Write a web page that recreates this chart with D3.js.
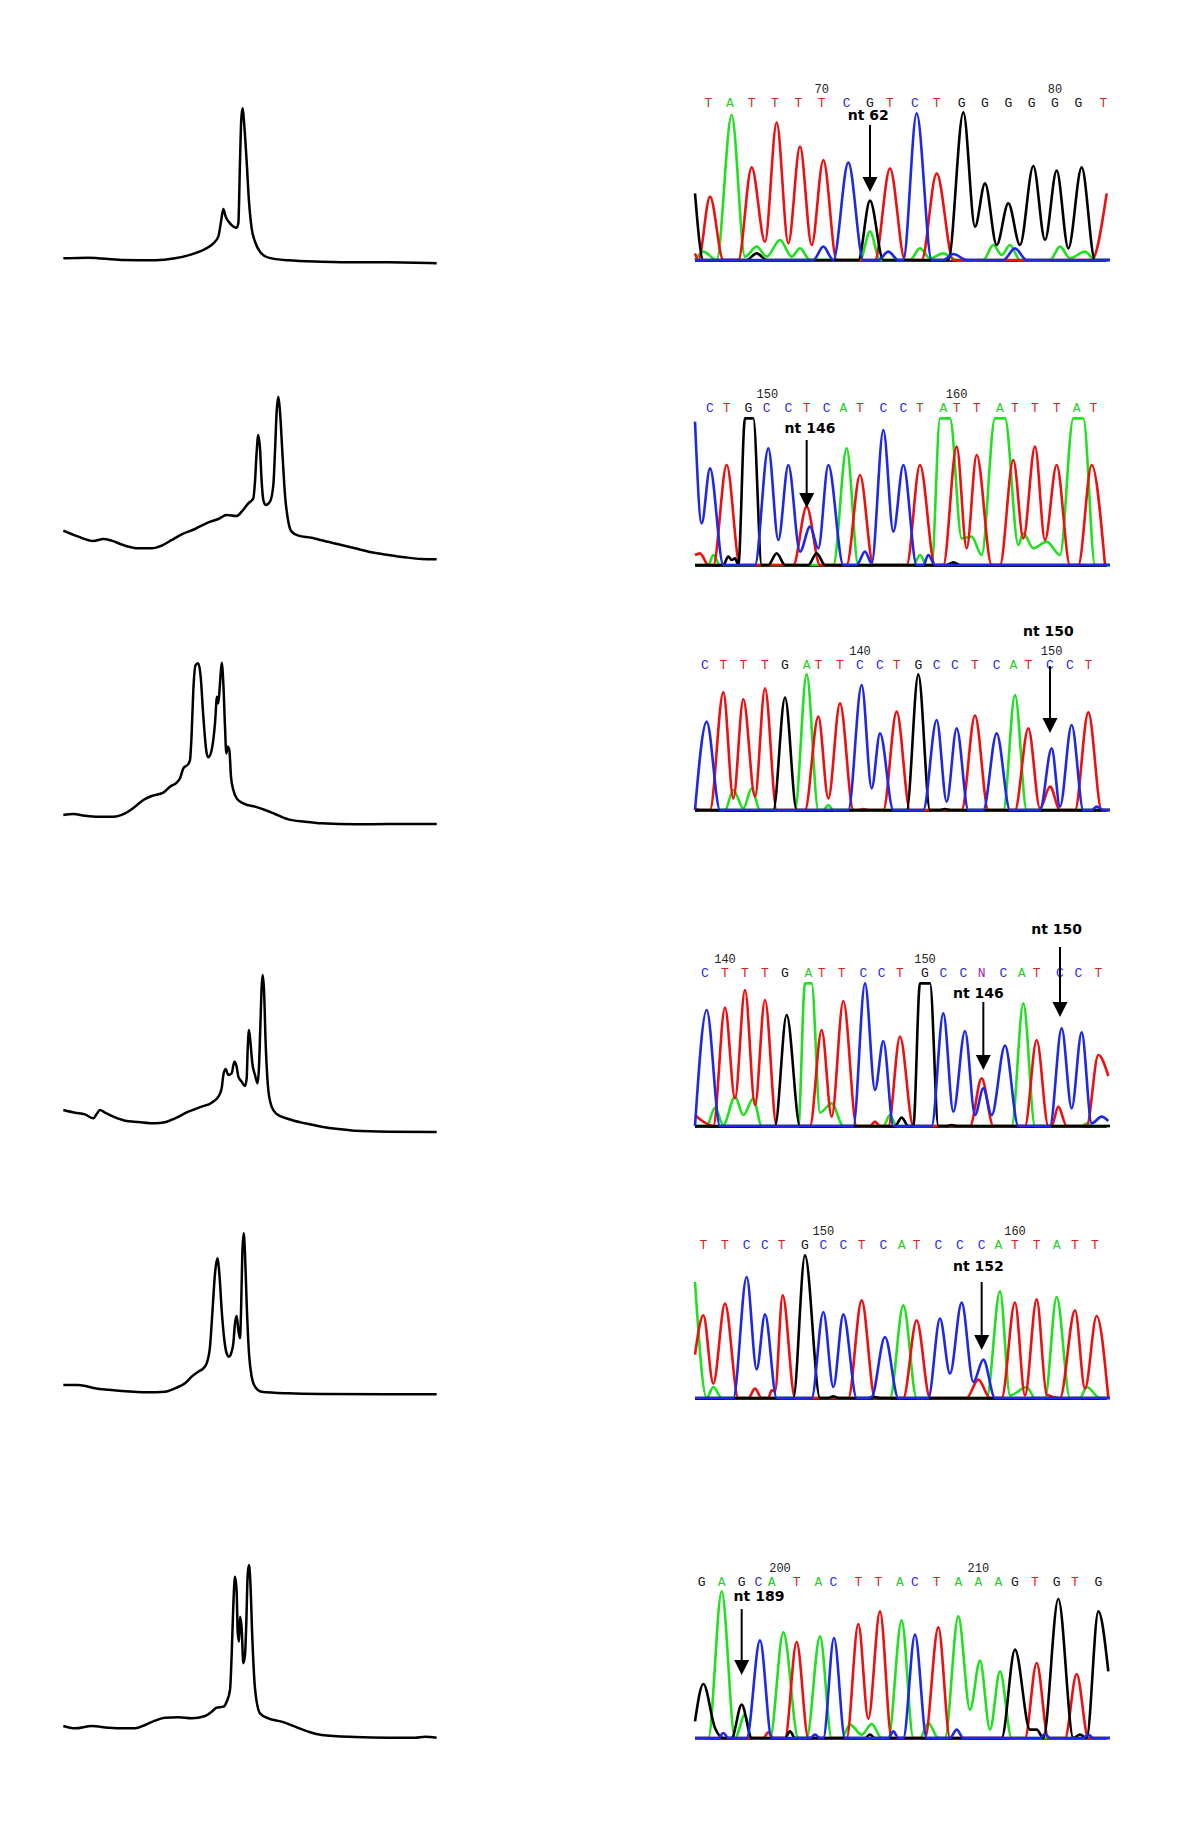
<!DOCTYPE html>
<html>
<head>
<meta charset="utf-8">
<script src="https://cdnjs.cloudflare.com/ajax/libs/d3/7.8.5/d3.min.js"></script>
<style>
  body { margin: 0; background: #fff; }
  .base { font-family: "Liberation Mono", monospace; font-size: 13px; }
  .num { font-family: "Liberation Mono", monospace; font-size: 12px; fill: #222; }
  .nt { font-family: "DejaVu Sans", sans-serif; font-size: 14px; font-weight: bold; fill: #000; }
</style>
</head>
<body>
<script>
// melting curves, left column: [scan, signal]
var melt1 = [[25,50],[100,52],[200,45],[300,44],[360,50],[410,62],[450,78],[475,95],[490,115],[498,160],[505,198],[512,175],[525,155],[545,142],[550,155],[555,340],[559,470],[563,500],[567,460],[575,340],[582,220],[590,140],[600,100],[615,70],[640,52],[700,44],[800,40],[900,38],[1000,38],[1145,35]];
var melt2 = [[25,103],[70,85],[115,72],[145,78],[170,73],[210,58],[250,50],[290,50],[320,58],[350,75],[380,92],[420,108],[460,128],[490,138],[515,150],[545,147],[560,160],[580,185],[595,200],[600,250],[605,340],[610,390],[615,350],[620,250],[625,195],[632,180],[645,190],[655,240],[660,340],[665,460],[670,505],[675,460],[682,340],[690,210],[700,130],[710,100],[730,88],[770,82],[800,74],[850,62],[900,50],[950,38],[1000,30],[1050,23],[1100,18],[1145,17]];
var melt3 = [[25,45],[55,48],[90,43],[130,40],[175,40],[210,50],[240,70],[265,90],[290,102],[325,112],[345,130],[365,142],[375,155],[385,185],[400,198],[405,210],[410,290],[415,420],[422,495],[430,500],[437,460],[445,340],[455,230],[460,218],[470,240],[480,320],[486,400],[490,380],[495,440],[500,502],[505,440],[510,310],[514,230],[518,250],[523,240],[528,160],[535,120],[545,95],[565,80],[600,70],[630,60],[660,48],[700,32],[750,25],[800,20],[900,17],[1000,18],[1145,18]];
var melt4 = [[25,90],[60,82],[90,77],[115,65],[125,78],[135,90],[150,82],[175,70],[210,58],[250,54],[300,50],[330,53],[360,65],[400,85],[440,100],[470,112],[490,130],[500,155],[505,195],[512,213],[520,195],[530,200],[538,235],[545,220],[550,190],[560,175],[570,162],[575,185],[578,270],[582,330],[587,285],[592,230],[600,195],[608,170],[612,220],[616,340],[620,460],[623,495],[627,450],[632,290],[640,150],[650,100],[665,78],[700,63],[750,50],[800,40],[850,33],[900,28],[1000,25],[1145,24]];
var melt5 = [[25,45],[70,45],[120,35],[200,27],[280,23],[330,25],[360,35],[390,50],[410,70],[430,85],[445,95],[455,110],[465,160],[472,260],[480,380],[487,425],[493,380],[500,270],[508,180],[515,140],[522,130],[530,145],[535,170],[540,230],[545,252],[550,210],[555,185],[558,260],[562,440],[566,500],[570,440],[575,290],[582,140],[590,70],[600,40],[620,25],[700,20],[800,18],[1000,17],[1145,17]];
var melt6 = [[25,47],[60,40],[110,47],[160,42],[200,40],[240,40],[270,50],[300,63],[330,72],[370,73],[410,70],[450,77],[470,90],[485,102],[505,105],[515,120],[525,155],[530,260],[535,410],[540,495],[545,450],[548,330],[552,300],[555,375],[560,340],[565,235],[570,260],[574,360],[578,500],[582,530],[586,480],[592,310],[600,160],[615,85],[640,70],[680,60],[720,45],[760,30],[800,20],[900,14],[1000,12],[1080,12],[1110,15],[1145,12]];

// chromatograms, right column: called bases, their scan positions, position numbers
var seq1 = "TATTTTCGTCTGGGGGGT";
var pos1 = [55,120,185,255,325,395,470,540,600,675,740,815,885,955,1025,1095,1165,1240];
var seq2 = "CTGCCTCATCCTATTATTTAT";
var pos2 = [60,110,175,230,295,350,410,460,510,580,640,690,760,800,860,930,975,1035,1100,1160,1210];
var seq3 = "CTTTGATTCCTGCCTCATCCT";
var pos3 = [45,100,160,225,285,350,385,450,510,570,620,685,740,795,855,920,970,1015,1080,1140,1195];
var seq4 = "CTTTGATTCCTGCCNCATCCT";
var pos4 = [45,105,165,225,285,355,395,455,520,575,630,705,760,820,875,940,995,1040,1110,1165,1225];
var seq5 = "TTCCTGCCTCATCCCATTATT";
var pos5 = [40,105,170,225,275,345,400,460,515,580,635,680,745,810,875,925,975,1040,1100,1155,1215];
var seq6 = "GAGCATACTTACTAAAGTGTG";
var pos6 = [35,95,155,205,245,320,385,430,505,565,630,675,740,805,865,925,975,1035,1100,1155,1225];

var nums1 = [70, 80], numPos1 = [395, 1095];
var nums2 = [150, 160], numPos2 = [232, 800];
var nums3 = [140, 150], numPos3 = [510, 1085];
var nums4 = [140, 150], numPos4 = [105, 705];
var nums5 = [150, 160], numPos5 = [400, 975];
var nums6 = [200, 210], numPos6 = [270, 865];

// trace channels [scan, signal]
var t1A = [[15,0],[40,25],[80,0],[125,435],[165,10],[200,40],[230,10],[270,60],[305,10],[330,35],[360,0],[510,0],[540,85],[570,0],[660,0],[690,35],[720,5],[760,20],[800,0],[880,0],[910,45],[935,15],[960,45],[990,0],[1080,0],[1110,40],[1140,5],[1185,25],[1215,0],[1260,0]];
var t1C = [[15,0],[370,0],[400,40],[430,0],[475,292],[520,0],[565,0],[595,25],[625,0],[640,0],[680,440],[725,0],[760,0],[790,18],[830,0],[940,0],[975,35],[1010,0],[1260,0]];
var t1G = [[15,200],[40,0],[170,0],[200,20],[230,0],[505,0],[540,178],[580,0],[775,0],[820,443],[855,100],[885,230],[920,45],[955,170],[990,45],[1030,282],[1065,60],[1100,268],[1135,35],[1175,278],[1215,0],[1260,0]];
var t1T = [[15,20],[25,0],[60,190],[100,0],[145,0],[185,278],[225,55],[260,412],[295,50],[330,340],[365,45],[400,300],[440,0],[555,0],[600,275],[645,0],[695,0],[740,260],[790,0],[1205,0],[1250,200]];

var t2A = [[15,0],[55,0],[70,30],[90,0],[430,0],[470,350],[505,0],[670,0],[690,30],[710,0],[725,0],[750,440],[780,440],[815,80],[845,85],[875,30],[915,440],[945,440],[985,60],[1000,95],[1030,50],[1070,70],[1110,30],[1150,440],[1180,440],[1215,0],[1260,0]];
var t2C = [[15,430],[35,125],[60,290],[100,0],[195,0],[235,350],[265,75],[295,300],[330,40],[360,115],[385,50],[415,300],[460,0],[500,0],[525,40],[545,5],[580,405],[610,100],[640,300],[680,0],[700,0],[715,30],[735,0],[1260,0]];
var t2G = [[15,0],[100,0],[115,25],[125,15],[135,20],[145,0],[165,440],[190,440],[215,0],[235,0],[260,35],[285,0],[355,0],[380,35],[405,0],[770,0],[790,8],[810,0],[1260,0]];
var t2T = [[15,30],[30,35],[55,0],[70,0],[110,300],[150,0],[310,0],[350,175],[390,0],[470,0],[510,270],[550,0],[650,0],[690,300],[735,0],[760,0],[800,355],[830,50],[860,330],[905,0],[930,0],[970,315],[1000,80],[1035,355],[1065,75],[1100,300],[1140,0],[1165,0],[1205,300],[1245,0]];

var t3A = [[15,0],[105,0],[130,60],[160,5],[185,65],[210,0],[315,0],[350,407],[385,0],[400,0],[415,15],[430,0],[940,0],[975,345],[1010,0],[1260,0]];
var t3C = [[15,0],[50,265],[90,0],[475,0],[515,375],[545,65],[570,230],[610,0],[700,0],[740,270],[770,25],[800,245],[835,0],[880,0],[920,230],[960,0],[1050,0],[1085,185],[1110,10],[1145,255],[1180,0],[1205,0],[1220,10],[1240,0],[1260,0]];
var t3G = [[15,0],[250,0],[285,337],[320,0],[650,0],[685,407],[720,0],[750,0],[765,3],[780,0],[1260,0]];
var t3T = [[15,5],[30,0],[60,0],[100,353],[130,35],[160,332],[195,40],[225,365],[260,0],[345,0],[385,280],[415,35],[450,320],[490,0],[505,0],[520,3],[535,0],[580,0],[620,295],[660,0],[815,0],[855,283],[895,0],[975,0],[1015,245],[1050,5],[1080,70],[1110,0],[1155,0],[1195,293],[1235,0],[1260,0]];

var t4A = [[15,0],[50,0],[75,55],[100,3],[135,88],[160,33],[190,83],[215,0],[325,0],[345,428],[365,428],[390,40],[425,68],[460,0],[580,0],[600,33],[620,0],[965,0],[1000,368],[1035,0],[1175,0],[1190,8],[1205,0],[1260,0]];
var t4C = [[15,0],[50,348],[90,0],[490,0],[525,428],[555,108],[580,255],[610,0],[725,0],[760,338],[790,43],[825,285],[855,33],[880,113],[905,33],[945,241],[985,0],[1080,0],[1115,293],[1145,53],[1175,281],[1205,8],[1235,28],[1255,15]];
var t4G = [[15,0],[255,0],[290,333],[330,0],[615,0],[635,25],[655,0],[670,0],[690,428],[720,428],[745,0],[770,0],[785,3],[800,0],[1260,0]];
var t4T = [[15,33],[30,20],[70,0],[105,355],[135,83],[165,408],[195,63],[225,378],[260,0],[360,0],[395,288],[425,28],[460,375],[500,0],[540,0],[555,13],[570,0],[595,0],[630,268],[670,0],[840,0],[875,143],[910,0],[1005,0],[1040,258],[1075,0],[1085,0],[1105,58],[1130,0],[1190,0],[1225,213],[1255,150]];

var t5A = [[15,348],[50,0],[70,33],[95,0],[600,0],[640,278],[680,0],[890,0],[930,320],[960,8],[1010,33],[1035,0],[1065,0],[1100,303],[1140,0],[1170,0],[1190,33],[1230,0],[1260,0]];
var t5C = [[15,0],[130,0],[170,363],[200,86],[225,251],[260,0],[365,0],[400,258],[430,33],[460,251],[500,0],[530,0],[545,3],[585,183],[625,0],[715,0],[750,238],[780,73],[815,286],[850,48],[880,115],[915,0],[1260,0]];
var t5G = [[15,0],[310,0],[345,428],[390,0],[415,0],[430,5],[445,0],[540,0],[555,3],[570,0],[1260,0]];
var t5T = [[15,130],[40,248],[70,43],[105,283],[145,0],[175,0],[195,28],[215,0],[235,0],[245,23],[255,20],[278,308],[315,0],[475,0],[515,293],[555,0],[640,0],[680,233],[720,0],[830,0],[865,55],[900,0],[935,0],[975,286],[1005,8],[1040,296],[1070,10],[1110,0],[1155,263],[1185,28],[1220,246],[1255,0]];

var t6A = [[15,0],[55,0],[95,440],[135,0],[165,70],[185,0],[240,0],[280,317],[325,0],[350,0],[390,305],[425,0],[455,0],[480,40],[515,10],[545,42],[575,0],[595,0],[635,353],[670,0],[690,0],[715,45],[745,0],[765,0],[805,365],[840,85],[870,232],[900,25],[930,200],[965,0],[1260,0]];
var t6C = [[15,0],[85,0],[100,15],[115,0],[170,0],[210,293],[245,0],[360,0],[375,10],[390,0],[400,0],[432,300],[465,0],[595,0],[610,20],[625,0],[640,0],[675,310],[710,0],[780,0],[800,25],[820,0],[1050,0],[1065,12],[1080,0],[1180,0],[1195,10],[1210,0],[1260,0]];
var t6G = [[15,50],[40,162],[75,30],[100,0],[125,0],[155,100],[185,0],[285,0],[300,20],[315,0],[525,0],[540,10],[555,0],[935,0],[975,265],[1020,25],[1040,25],[1060,0],[1105,417],[1150,0],[1170,10],[1190,0],[1225,380],[1255,200]];
var t6T = [[15,0],[220,0],[235,17],[250,0],[285,0],[320,288],[355,0],[470,0],[505,342],[535,58],[570,380],[605,0],[705,0],[745,332],[780,0],[1005,0],[1040,225],[1075,0],[1125,0],[1160,192],[1195,0],[1260,0]];

// mutation arrows: label, scan position
var marks1 = [{label: "nt 62", at: 540}];
var marks2 = [{label: "nt 146", at: 350}];
var marks3 = [{label: "nt 150", at: 1080}];
var marks4 = [{label: "nt 146", at: 880}, {label: "nt 150", at: 1110}];
var marks5 = [{label: "nt 152", at: 875}];
var marks6 = [{label: "nt 189", at: 155}];

var baseColor = {A: "#22d022", C: "#2a2ae6", G: "#111111", T: "#e01e1e", N: "#a020d0"};
var traceColor = {A: "#20e020", C: "#1e28e6", G: "#000000", T: "#ee1010"};

var width = 1200, height = 1823;

var svg = d3.select("body").append("svg")
    .attr("width", width)
    .attr("height", height);

svg.append("rect").attr("width", width).attr("height", height).attr("fill", "#fff");

// layout of each row (pixels)
var meltRows = [
  {data: melt1, top: 95, base: 540},
  {data: melt2, top: 385, base: 540},
  {data: melt3, top: 650, base: 540},
  {data: melt4, top: 960, base: 540},
  {data: melt5, top: 1220, base: 540},
  {data: melt6, top: 1555, base: 560}
];

var chromRows = [
  {seq: seq1, pos: pos1, nums: nums1, numPos: numPos1, A: t1A, C: t1C, G: t1G, T: t1T, marks: marks1, bottom: 260, letterY: 107, axis: "#1e28c0",
   arrows: [{tip: 192, top: 125, text: 120, tx: 535}]},
  {seq: seq2, pos: pos2, nums: nums2, numPos: numPos2, A: t2A, C: t2C, G: t2G, T: t2T, marks: marks2, bottom: 565, letterY: 412, axis: "#111",
   arrows: [{tip: 508, top: 440, text: 433, tx: 360}]},
  {seq: seq3, pos: pos3, nums: nums3, numPos: numPos3, A: t3A, C: t3C, G: t3G, T: t3T, marks: marks3, bottom: 810, letterY: 669, axis: "#111",
   arrows: [{tip: 733, top: 666, text: 636, tx: 1075}]},
  {seq: seq4, pos: pos4, nums: nums4, numPos: numPos4, A: t4A, C: t4C, G: t4G, T: t4T, marks: marks4, bottom: 1126, letterY: 977, axis: "#111",
   arrows: [{tip: 1070, top: 1002, text: 998, tx: 865}, {tip: 1017, top: 947, text: 934, tx: 1100}]},
  {seq: seq5, pos: pos5, nums: nums5, numPos: numPos5, A: t5A, C: t5C, G: t5G, T: t5T, marks: marks5, bottom: 1398, letterY: 1249, axis: "#111",
   arrows: [{tip: 1350, top: 1282, text: 1271, tx: 865}]},
  {seq: seq6, pos: pos6, nums: nums6, numPos: numPos6, A: t6A, C: t6C, G: t6G, T: t6T, marks: marks6, bottom: 1738, letterY: 1586, axis: "#1e28c0",
   arrows: [{tip: 1675, top: 1609, text: 1601, tx: 207}]}
];

// left column: melting peaks
var mx = d3.scaleLinear().domain([0, 1170]).range([55, 445]);

meltRows.forEach(function(r) {
  var my = d3.scaleLinear().domain([0, r.base]).range([r.top + r.base / 3, r.top]);
  var line = d3.line()
      .x(function(d) { return mx(d[0]); })
      .y(function(d) { return my(d[1]); })
      .curve(d3.curveMonotoneX);
  svg.append("path")
      .datum(r.data)
      .attr("d", line)
      .attr("fill", "none")
      .attr("stroke", "#000")
      .attr("stroke-width", 2.5)
      .attr("stroke-linejoin", "round");
});

// right column: sequencing traces
var cx = d3.scaleLinear().domain([0, 1260]).range([690, 1110]);

chromRows.forEach(function(r) {
  var cy = d3.scaleLinear().domain([0, 540]).range([r.bottom, r.bottom - 180]);
  var line = d3.line()
      .x(function(d) { return cx(d[0]); })
      .y(function(d) { return cy(d[1]); })
      .curve(d3.curveMonotoneX);

  var g = svg.append("g");

  // baseline
  g.append("line")
      .attr("x1", cx(15)).attr("x2", cx(1250))
      .attr("y1", r.bottom + 1).attr("y2", r.bottom + 1)
      .attr("stroke", r.axis)
      .attr("stroke-width", 2);

  ["A", "T", "G", "C"].forEach(function(b) {
    g.append("path")
        .datum(r[b])
        .attr("d", line)
        .attr("fill", "none")
        .attr("stroke", traceColor[b])
        .attr("stroke-width", 2.6)
        .attr("stroke-linejoin", "round");
  });

  // base calls
  g.selectAll("text.base")
      .data(r.seq.split(""))
      .enter().append("text")
      .attr("class", "base")
      .attr("x", function(d, i) { return cx(r.pos[i]); })
      .attr("y", r.letterY)
      .attr("text-anchor", "middle")
      .attr("fill", function(d) { return baseColor[d]; })
      .text(function(d) { return d; });

  g.selectAll("text.num")
      .data(r.nums)
      .enter().append("text")
      .attr("class", "num")
      .attr("x", function(d, i) { return cx(r.numPos[i]); })
      .attr("y", r.letterY - 14)
      .attr("text-anchor", "middle")
      .text(function(d) { return d; });

  // arrows
  r.marks.forEach(function(m, i) {
    var a = r.arrows[i];
    var x = cx(m.at);
    g.append("line")
        .attr("x1", x).attr("x2", x)
        .attr("y1", a.top).attr("y2", a.tip - 12)
        .attr("stroke", "#000")
        .attr("stroke-width", 2);
    g.append("path")
        .attr("d", "M" + (x - 7.5) + "," + (a.tip - 15) + "L" + (x + 7.5) + "," + (a.tip - 15) + "L" + x + "," + a.tip + "Z")
        .attr("fill", "#000");
    g.append("text")
        .attr("class", "nt")
        .attr("x", cx(a.tx))
        .attr("y", a.text)
        .attr("text-anchor", "middle")
        .text(m.label);
  });
});
</script>
</body>
</html>
